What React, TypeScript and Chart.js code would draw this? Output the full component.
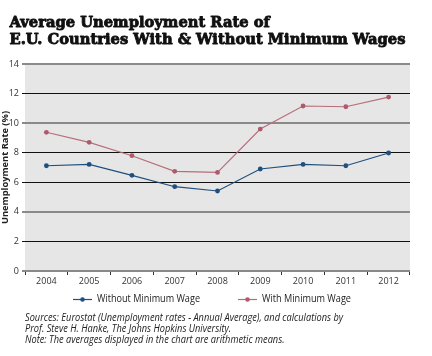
import React, { useEffect, useRef } from "react";
import { Chart, registerables } from "chart.js";

Chart.register(...registerables);

const years = ["2004", "2005", "2006", "2007", "2008", "2009", "2010", "2011", "2012"];
const withoutMinWage = [7.12, 7.21, 6.47, 5.7, 5.41, 6.9, 7.21, 7.12, 7.98];
const withMinWage = [9.38, 8.7, 7.8, 6.74, 6.67, 9.6, 11.16, 11.11, 11.76];
const yTicks = [0, 2, 4, 6, 8, 10, 12, 14];
const grayGridValues = [0, 4, 10, 14];

const titleLines = [
  "Average Unemployment Rate of",
  "E.U. Countries With & Without Minimum Wages",
];
const noteLines = [
  "Sources: Eurostat (Unemployment rates - Annual Average), and calculations by",
  "Prof. Steve H. Hanke, The Johns Hopkins University.",
  "Note: The averages displayed in the chart are arithmetic means.",
];

const BLUE = "#1f4f7e";
const RED = "#b0596c";
const RED_LINE = "#b86c7a";

const textPlugin = {
  id: "textPlugin",
  beforeDraw(chart: any) {
    const { ctx, chartArea } = chart;
    ctx.save();
    ctx.fillStyle = "#e6e6e6";
    ctx.fillRect(chartArea.left, chartArea.top, chartArea.right - chartArea.left, chartArea.bottom - chartArea.top);
    ctx.restore();
  },
  afterDraw(chart: any) {
    const { ctx } = chart;
    ctx.save();
    // title
    ctx.fillStyle = "#111";
    ctx.strokeStyle = "#111";
    ctx.lineWidth = 0.9;
    ctx.lineJoin = "round";
    ctx.textBaseline = "alphabetic";
    ctx.textAlign = "left";
    ctx.font = "bold 15.5px 'DejaVu Serif'";
    const w2 = ctx.measureText(titleLines[1]).width;
    const sx = 396 / w2;
    const baselines = [27, 43.5];
    titleLines.forEach((t, i) => {
      ctx.save();
      ctx.translate(9.5, baselines[i]);
      ctx.scale(sx, 1);
      ctx.fillText(t, 0, 0);
      ctx.strokeText(t, 0, 0);
      ctx.restore();
    });

    // legend (custom, from datasets)
    const ds = chart.data.datasets;
    const iconX = [73, 238];
    const textW = [103, 89];
    const ly = 299.5;
    ds.forEach((d: any, i: number) => {
      ctx.strokeStyle = d.borderColor;
      ctx.lineWidth = 1.2;
      ctx.beginPath();
      ctx.moveTo(iconX[i], ly);
      ctx.lineTo(iconX[i] + 19, ly);
      ctx.stroke();
      ctx.fillStyle = d.backgroundColor;
      ctx.beginPath();
      ctx.arc(iconX[i] + 9.5, ly, 2.3, 0, Math.PI * 2);
      ctx.fill();
      ctx.fillStyle = "#222";
      ctx.font = "10px 'Open Sans'";
      ctx.textBaseline = "middle";
      const mw = ctx.measureText(d.label).width;
      ctx.save();
      ctx.translate(iconX[i] + 24, ly);
      ctx.scale(textW[i] / mw, 1);
      ctx.fillText(d.label, 0, 0);
      ctx.restore();
    });

    // notes
    ctx.textBaseline = "alphabetic";
    ctx.fillStyle = "#222";
    ctx.font = "italic 10px 'Open Sans'";
    const nw = ctx.measureText(noteLines[0]).width;
    const nsx = 318 / nw;
    const nb = [320.5, 331.5, 342.5];
    noteLines.forEach((t, i) => {
      ctx.save();
      ctx.translate(25, nb[i]);
      ctx.scale(nsx, 1);
      ctx.fillText(t, 0, 0);
      ctx.restore();
    });
    ctx.restore();
  },
};

export default function App() {
  const ref = useRef<HTMLCanvasElement>(null);
  useEffect(() => {
    const chart = new Chart(ref.current!, {
      type: "line",
      data: {
        labels: years,
        datasets: [
          {
            label: "Without Minimum Wage",
            data: withoutMinWage,
            borderColor: BLUE,
            backgroundColor: BLUE,
            borderWidth: 1.2,
            pointRadius: 2.4,
            pointBorderWidth: 0,
            tension: 0,
          },
          {
            label: "With Minimum Wage",
            data: withMinWage,
            borderColor: RED_LINE,
            backgroundColor: RED,
            borderWidth: 1.1,
            pointRadius: 2.4,
            pointBorderWidth: 0,
            tension: 0,
          },
        ],
      },
      options: {
        animation: false,
        responsive: false,
        devicePixelRatio: 1,
        layout: { padding: { top: 64, right: 22, bottom: 69, left: 0 } },
        plugins: {
          title: { display: false },
          tooltip: { enabled: false },
          legend: { display: false },
        },
        scales: {
          x: {
            offset: true,
            grid: {
              display: true,
              offset: true,
              drawOnChartArea: false,
              drawTicks: true,
              tickLength: 4,
              color: "#333",
              lineWidth: 1,
            },
            border: { display: false },
            ticks: {
              color: "#333",
              font: { family: "'Open Sans'", size: 9 },
              padding: 1,
              maxRotation: 0,
            },
            afterFit: (s: any) => {
              s.height = 16;
            },
          },
          y: {
            min: 0,
            max: 14,
            afterBuildTicks: (s: any) => {
              s.ticks = yTicks.map((v) => ({ value: v }));
            },
            grid: {
              color: (c: any) => (grayGridValues.includes(c.tick?.value) ? "#8a8a8a" : "#111"),
              lineWidth: (c: any) => (grayGridValues.includes(c.tick?.value) ? 2 : 1),
              drawTicks: true,
              tickLength: 3,
            },
            border: { display: false },
            ticks: {
              color: "#333",
              font: { family: "'Open Sans'", size: 9 },
              padding: 3,
            },
            title: {
              display: true,
              text: "Unemployment Rate (%)",
              color: "#222",
              font: { family: "'Open Sans'", size: 9.3, weight: "bold" },
              padding: 0,
            },
            afterFit: (s: any) => {
              s.width = 25;
            },
          },
        },
      },
      plugins: [textPlugin],
    });
    return () => chart.destroy();
  }, []);
  return (
    <div style={{ position: "absolute", left: 0, top: 0, width: 432, height: 356, background: "#fff" }}>
      <canvas ref={ref} width={432} height={356} style={{ width: 432, height: 356 }} />
    </div>
  );
}
